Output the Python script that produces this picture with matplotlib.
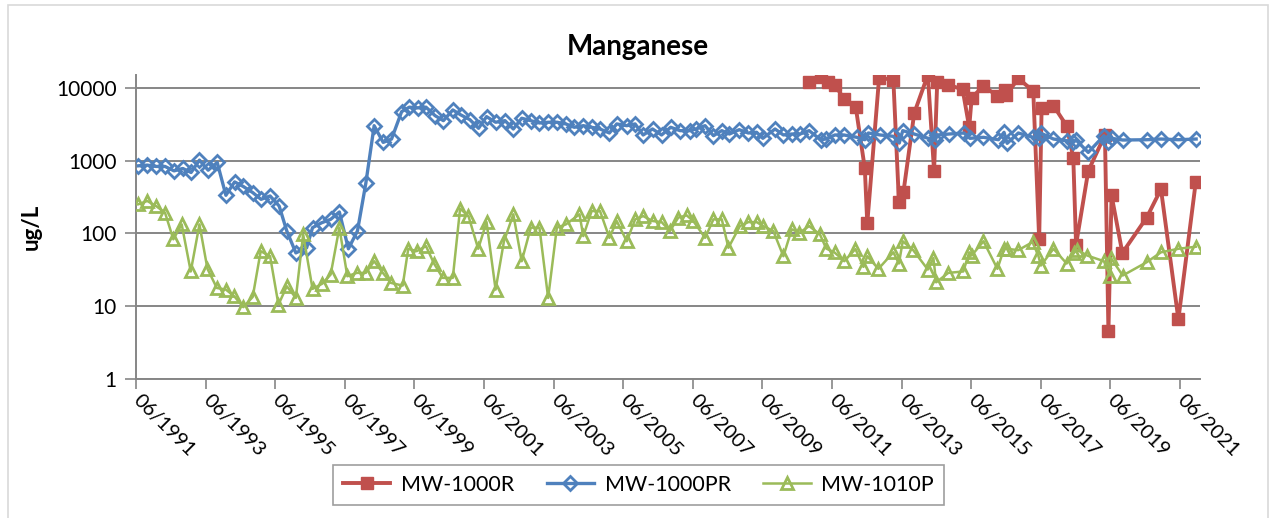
import numpy as np
import matplotlib
matplotlib.use("Agg")
import matplotlib.pyplot as plt
from matplotlib.patches import Rectangle
from matplotlib.ticker import FixedLocator, NullLocator, FuncFormatter

plt.rcParams['font.family'] = ['Lato', 'DejaVu Sans']

# --- Data (sample dates as decimal years, concentrations in ug/L) ---
red_years = [2010.77, 2011.09, 2011.31, 2011.50, 2011.77, 2012.10, 2012.36, 2012.43,
             2012.77, 2013.18, 2013.34, 2013.47, 2013.78, 2014.17, 2014.35, 2014.44,
             2014.76, 2015.17, 2015.36, 2015.43, 2015.77, 2016.17, 2016.39, 2016.43,
             2016.77, 2017.20, 2017.37, 2017.44, 2017.78, 2018.16, 2018.35, 2018.43,
             2018.78, 2019.26, 2019.36, 2019.45, 2019.76, 2020.46, 2020.87, 2021.37,
             2021.87]
red_vals = [12000, 14000, 12000, 10800, 7050, 5400, 780, 137,
            13700, 12900, 270, 370, 4500, 15000, 720, 12000,
            11000, 9500, 2870, 7300, 10600, 7700, 9200, 8000,
            13500, 9000, 83, 5300, 5700, 3000, 1100, 70,
            720, 2250, 4.5, 334, 54, 165, 405, 6.6,
            510]

blue_years = [1991.48, 1991.74, 1991.99, 1992.25, 1992.51, 1992.76, 1993.00, 1993.24,
              1993.49, 1993.75, 1994.00, 1994.25, 1994.50, 1994.77, 1995.01, 1995.27,
              1995.53, 1995.75, 1996.01, 1996.32, 1996.49, 1996.75, 1997.01, 1997.26,
              1997.52, 1997.78, 1998.02, 1998.26, 1998.52, 1998.76, 1999.05, 1999.27,
              1999.51, 1999.75, 2000.01, 2000.25, 2000.52, 2000.75, 2001.01, 2001.26,
              2001.49, 2001.75, 2002.02, 2002.26, 2002.50, 2002.76, 2003.01, 2003.26,
              2003.52, 2003.77, 2004.01, 2004.27, 2004.51, 2004.75, 2005.02, 2005.23,
              2005.52, 2005.76, 2005.99, 2006.26, 2006.52, 2006.78, 2007.05, 2007.34,
              2007.51, 2007.77, 2008.01, 2008.25, 2008.47, 2008.75, 2009.01, 2009.25,
              2009.43, 2009.78, 2010.02, 2010.26, 2010.50, 2010.76, 2011.09, 2011.24,
              2011.50, 2011.76, 2012.13, 2012.36, 2012.46, 2012.80, 2013.18, 2013.35,
              2013.45, 2013.78, 2014.18, 2014.38, 2014.44, 2014.78, 2015.21, 2015.38,
              2015.77, 2016.20, 2016.36, 2016.45, 2016.77, 2017.20, 2017.37, 2017.41,
              2017.78, 2018.16, 2018.33, 2018.43, 2018.78, 2019.23, 2019.36, 2019.45,
              2019.77, 2020.46, 2020.87, 2021.37, 2021.88]
blue_vals = [848, 867, 832, 832, 723, 780, 687, 1016,
             739, 944, 334, 510, 441, 364, 294, 327,
             238, 108, 54, 63.5, 120, 140, 156, 197,
             61.5, 108, 485, 3020, 1780, 1980, 4710, 5420,
             5300, 5420, 4150, 3540, 4970, 4245, 3655, 2780,
             4020, 3365, 3540, 2720, 3820, 3540, 3290, 3365,
             3365, 3190, 2870, 3020, 2870, 2720, 2395, 3190,
             3020, 3190, 2250, 2720, 2250, 2870, 2580, 2580,
             2720, 3020, 2200, 2580, 2320, 2660, 2395, 2450,
             2025, 2720, 2250, 2320, 2320, 2580, 1936, 1980,
             2250, 2250, 2090, 1936, 2395, 2250, 2157, 1743,
             2580, 2320, 2025, 1918, 2250, 2320, 2395, 2025,
             2090, 1936, 2450, 1727, 2395, 2090, 2025, 2395,
             1980, 1876, 1783, 1918, 1297, 2198, 1783, 2025,
             1918, 1936, 1980, 1936, 1980]

green_years = [1991.48, 1991.74, 1991.99, 1992.25, 1992.49, 1992.73, 1992.99, 1993.24,
               1993.47, 1993.74, 1994.00, 1994.24, 1994.50, 1994.77, 1995.00, 1995.27,
               1995.51, 1995.75, 1996.01, 1996.22, 1996.49, 1996.77, 1997.01, 1997.26,
               1997.49, 1997.76, 1998.02, 1998.26, 1998.51, 1998.74, 1999.08, 1999.24,
               1999.48, 1999.75, 1999.98, 2000.23, 2000.52, 2000.73, 2000.97, 2001.25,
               2001.49, 2001.75, 2001.99, 2002.26, 2002.50, 2002.76, 2003.01, 2003.26,
               2003.51, 2003.77, 2004.16, 2004.27, 2004.51, 2004.75, 2005.02, 2005.23,
               2005.52, 2005.76, 2005.99, 2006.26, 2006.52, 2006.76, 2007.00, 2007.24,
               2007.43, 2007.77, 2008.01, 2008.25, 2008.44, 2008.77, 2009.01, 2009.25,
               2009.44, 2009.73, 2010.02, 2010.26, 2010.48, 2010.76, 2011.07, 2011.25,
               2011.49, 2011.77, 2012.09, 2012.32, 2012.43, 2012.75, 2013.18, 2013.34,
               2013.45, 2013.75, 2014.17, 2014.33, 2014.41, 2014.76, 2015.19, 2015.36,
               2015.43, 2015.77, 2016.17, 2016.36, 2016.44, 2016.77, 2017.18, 2017.35,
               2017.42, 2017.78, 2018.16, 2018.37, 2018.45, 2018.75, 2019.23, 2019.40,
               2019.43, 2019.77, 2020.46, 2020.87, 2021.37, 2021.87]
green_vals = [251, 279, 238, 193, 83, 133, 30, 133,
              32.6, 17.8, 16.9, 13.7, 9.7, 13.4, 57, 48.6,
              10.5, 18.8, 13, 97, 17.3, 20.4, 27.2, 120,
              25.8, 28.7, 28.7, 41.5, 28.7, 20.9, 19.2, 61.5,
              57, 66.8, 38.6, 24.5, 24.5, 219, 173, 61.5,
              143, 16.9, 78, 183, 41.5, 120, 120, 13,
              120, 133, 183, 92, 203, 203, 87, 148,
              78, 156, 173, 148, 143, 108, 165, 177,
              148, 87, 156, 156, 63.5, 126, 143, 143,
              126, 108, 48.6, 114, 102, 126, 97, 62,
              54.7, 41.5, 61, 34.7, 48.6, 32.6, 55, 38.6,
              78, 58.9, 31.9, 46, 21.3, 28.7, 30, 55,
              49.7, 78, 32.6, 61.5, 61.5, 58.9, 76, 48.6,
              36.2, 61.5, 38.6, 54, 60, 49.7, 41.5, 26.4,
              46, 26.4, 40.2, 55, 61.5, 65.6]

series_names = ["MW-1000R", "MW-1000PR", "MW-1010P"]
tick_years = list(range(1991, 2022, 2))
y_ticks = [1, 10, 100, 1000, 10000]

RED = "#C0504D"
BLUE = "#4F81BD"
GREEN = "#9BBB59"
GRID = "#868686"

fig = plt.figure(figsize=(12.75, 5.18), dpi=100)
ax = fig.add_axes([136 / 1275, 1 - 379 / 518, (1200 - 136) / 1275, (379 - 75) / 518])

# outer chart-area border
fig.patches.append(Rectangle((8 / 1275, -0.02), 1260 / 1275, 1.0 - 5 / 518 + 0.02,
                             transform=fig.transFigure, fill=False,
                             edgecolor="#D9D9D9", linewidth=1.2))

ax.plot(red_years, red_vals, color=RED, lw=2.8, marker="s", ms=8,
        mfc=RED, mec=RED, label=series_names[0], zorder=3)
ax.plot(blue_years, blue_vals, color=BLUE, lw=2.4, marker="D", ms=7,
        mfc="none", mec=BLUE, mew=2, label=series_names[1], zorder=4)
ax.plot(green_years, green_vals, color=GREEN, lw=1.8, marker="^", ms=9,
        mfc="none", mec=GREEN, mew=2, label=series_names[2], zorder=5)

ax.set_yscale("log")
ax.set_ylim(1, 15000)
ax.yaxis.set_major_locator(FixedLocator(y_ticks))
ax.yaxis.set_minor_locator(NullLocator())
ax.yaxis.set_major_formatter(FuncFormatter(lambda v, p: f"{int(v)}"))
ax.grid(axis="y", color=GRID, lw=1.4)
ax.set_axisbelow(True)

x0 = 1991 + 5 / 12
ax.set_xlim(x0, x0 + (1200 - 136) / 34.8)
xt = [y + 5 / 12 for y in tick_years]
ax.set_xticks(xt)
ax.set_xticklabels([f"06/{y}" for y in tick_years], rotation=-45, ha="left",
                   va="center", rotation_mode="anchor", fontsize=14.5)
ax.tick_params(axis="x", length=7, width=1.2, color=GRID, pad=6)
ax.tick_params(axis="y", length=8, width=1.2, color=GRID, labelsize=15, pad=6)

for s in ["top", "right"]:
    ax.spines[s].set_visible(False)
for s in ["left", "bottom"]:
    ax.spines[s].set_color(GRID)
    ax.spines[s].set_linewidth(1.4)

ax.set_ylabel("ug/L", fontsize=16, fontweight="bold", labelpad=10)
fig.text(0.5, 1 - 47 / 518, "Manganese", ha="center", va="center",
         fontsize=20, fontweight="bold")

leg = fig.legend(loc="center", bbox_to_anchor=(0.5008, 1 - 485 / 518), ncol=3,
                 fontsize=15.5, frameon=True, fancybox=False, edgecolor=GRID,
                 handlelength=2.2, columnspacing=1.5, borderpad=0.45,
                 handletextpad=0.5)
leg.get_frame().set_linewidth(1.2)

fig.savefig("out.png", dpi=100)
